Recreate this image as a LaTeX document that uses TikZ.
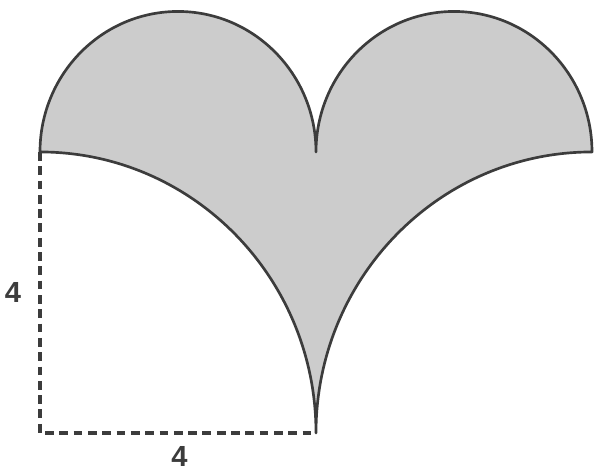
\documentclass[tikz,border=0pt]{standalone}
\usepackage{fontspec}
\setmainfont{Liberation Sans}
\definecolor{shade}{HTML}{CCCCCC}
\definecolor{edge}{HTML}{3C3C3C}
\tikzset{
  outline/.style={draw=edge, line width=1.1pt, fill=shade, line join=round},
  dashline/.style={draw=edge, line width=1.35pt, dash pattern=on 3.6pt off 2.3pt},
  lbl/.style={font=\fontsize{12}{14}\selectfont\bfseries, text=edge}
}
\begin{document}
\begin{tikzpicture}[yscale=1.0181]
\useasboundingbox (-0.5797,-0.541) rectangle (8.0725,6.164);
\coordinate (BL) at (0,0);
\coordinate (TL) at (0,4);
\coordinate (BR) at (4,0);
\coordinate (C) at (4,4);
\coordinate (R) at (8,4);
\path[outline] (TL) arc[start angle=180,end angle=0,radius=2]
  arc[start angle=180,end angle=0,radius=2]
  arc[start angle=90,end angle=180,radius=4]
  arc[start angle=0,end angle=90,radius=4] -- cycle;
\draw[dashline] (TL) -- (BL) -- (BR);
\node[lbl] (l1) at (-0.39,2.0) {4};
\node[lbl] (l2) at (2.02,-0.34) {4};
\end{tikzpicture}
\end{document}
